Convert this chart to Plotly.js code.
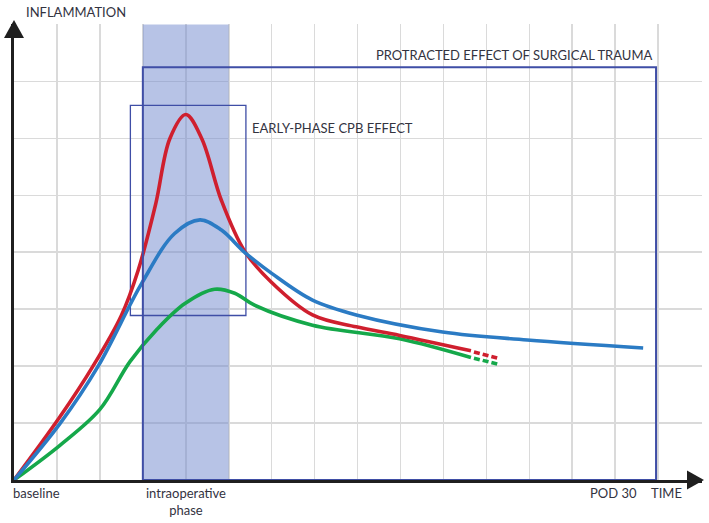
<!DOCTYPE html>
<html>
<head>
<meta charset="utf-8">
<script src="https://cdn.plot.ly/plotly-3.0.1.min.js"></script>
<style>
  body { margin: 0; background: #fff; }
  #chart { width: 709px; height: 523px; }
</style>
</head>
<body>
<div id="chart"></div>
<script>
// curves (x: time units, y: inflammation units)
var redX = [0, 1.07, 1.84, 2.5, 2.89, 3.3, 3.63, 4.0, 4.37, 4.83, 5.37, 6.0, 6.95, 7.97, 8.98, 10.64];
var redY = [0, 1.11, 2.0, 2.89, 3.68, 4.85, 6.0, 6.42, 6.0, 4.91, 4.02, 3.47, 2.9, 2.69, 2.54, 2.27];
var blueX = [0, 1.07, 1.96, 2.97, 3.74, 4.33, 4.83, 5.37, 6.0, 6.95, 7.97, 9.98, 11.95, 14.65];
var blueY = [0, 0.99, 2.0, 3.45, 4.33, 4.57, 4.39, 4.0, 3.63, 3.16, 2.9, 2.6, 2.46, 2.32];
var greenX = [0, 1.07, 2.0, 2.7, 3.32, 3.98, 4.67, 5.14, 5.6, 6.95, 8.98, 10.64];
var greenY = [0, 0.61, 1.24, 2.08, 2.64, 3.1, 3.35, 3.28, 3.07, 2.72, 2.48, 2.15];
// dashed continuations
var redTailX = [10.71, 11.26];
var redTailY = [2.25, 2.14];
var greenTailX = [10.71, 11.26];
var greenTailY = [2.14, 2.035];

var RED = '#cf1f2e', BLUE = '#2b7bc4', GREEN = '#15a84a';
var BOX = '#3f4ea6', INK = '#33333f';

function curve(x, y, color, dash) {
  return {
    type: 'scatter', mode: 'lines', x: x, y: y, hoverinfo: 'skip',
    line: { color: color, width: 3.6, shape: dash ? 'linear' : 'spline', smoothing: 1, dash: dash || 'solid' }
  };
}

var data = [
  curve(greenX, greenY, GREEN),
  curve(greenTailX, greenTailY, GREEN, '6px,3px'),
  curve(redX, redY, RED),
  curve(redTailX, redTailY, RED, '6px,3px'),
  curve(blueX, blueY, BLUE)
];

// plot area in pixels: x 14..702, y 24..480
var L = 14, T = 24, W = 688, H = 456;
function px(v) { return (v - L) / W; }
function py(v) { return (T + H - v) / H; }

var shapes = [
  // intraoperative phase band
  { type: 'rect', xref: 'x', yref: 'y', x0: 3, x1: 5, y0: 0, y1: 8, layer: 'between',
    fillcolor: 'rgba(112,136,206,0.5)', line: { width: 0 } },
  // early-phase box
  { type: 'rect', xref: 'x', yref: 'y', x0: 2.71, x1: 5.4, y0: 2.89, y1: 6.58, layer: 'between',
    line: { color: BOX, width: 1.3 } },
  // protracted box
  { type: 'rect', xref: 'x', yref: 'y', x0: 3, x1: 14.95, y0: 0, y1: 7.25, layer: 'above',
    line: { color: BOX, width: 2 } },
  // axis arrow heads
  { type: 'path', xref: 'paper', yref: 'paper', layer: 'above', fillcolor: '#1f1f1f', line: { width: 0 },
    path: 'M' + px(14) + ',' + py(20) + ' L' + px(24) + ',' + py(38) + ' L' + px(4) + ',' + py(38) + ' Z' },
  { type: 'path', xref: 'paper', yref: 'paper', layer: 'above', fillcolor: '#1f1f1f', line: { width: 0 },
    path: 'M' + px(704) + ',' + py(480) + ' L' + px(687) + ',' + py(470.5) + ' L' + px(687) + ',' + py(489.5) + ' Z' }
];

var font = { family: 'Lato, sans-serif', size: 13, color: INK };
function note(text, x, xref, y, yref, xanchor, yanchor, extra) {
  var a = { text: text, x: x, xref: xref, y: y, yref: yref, xanchor: xanchor, yanchor: yanchor,
            showarrow: false, font: font };
  for (var k in extra) a[k] = extra[k];
  return a;
}

var annotations = [
  note('INFLAMMATION', px(24), 'paper', 1, 'paper', 'left', 'bottom', { yshift: 2 }),
  note('baseline', 0, 'x', 0, 'paper', 'left', 'top', { yshift: -3, xshift: -3 }),
  note('intraoperative<br>phase', 4, 'x', 0, 'paper', 'center', 'top', { yshift: -3 }),
  note('POD 30', 13.95, 'x', 0, 'paper', 'center', 'top', { yshift: -3 }),
  note('TIME', 15.2, 'x', 0, 'paper', 'center', 'top', { yshift: -3 }),
  note('PROTRACTED EFFECT OF SURGICAL TRAUMA', 14.9, 'x', 7.46, 'y', 'right', 'middle'),
  note('EARLY-PHASE CPB EFFECT', 5.5, 'x', 6.19, 'y', 'left', 'middle')
];

var layout = {
  width: 709, height: 523,
  margin: { l: L, r: 709 - L - W, t: T, b: 523 - T - H, pad: 0 },
  paper_bgcolor: '#fff', plot_bgcolor: '#fff',
  showlegend: false,
  xaxis: { range: [0, 16.02], dtick: 1, tick0: 0, showticklabels: false, ticks: '',
           showgrid: true, gridcolor: '#dadada', gridwidth: 1.6, zeroline: false,
           showline: true, linecolor: '#1f1f1f', linewidth: 3, fixedrange: true },
  yaxis: { range: [0, 8.01], dtick: 1, tick0: 0, showticklabels: false, ticks: '',
           showgrid: true, gridcolor: '#dadada', gridwidth: 1.6, zeroline: false,
           showline: true, linecolor: '#1f1f1f', linewidth: 3, fixedrange: true },
  shapes: shapes,
  annotations: annotations
};

Plotly.newPlot('chart', data, layout, { displayModeBar: false, staticPlot: true });
</script>
</body>
</html>
